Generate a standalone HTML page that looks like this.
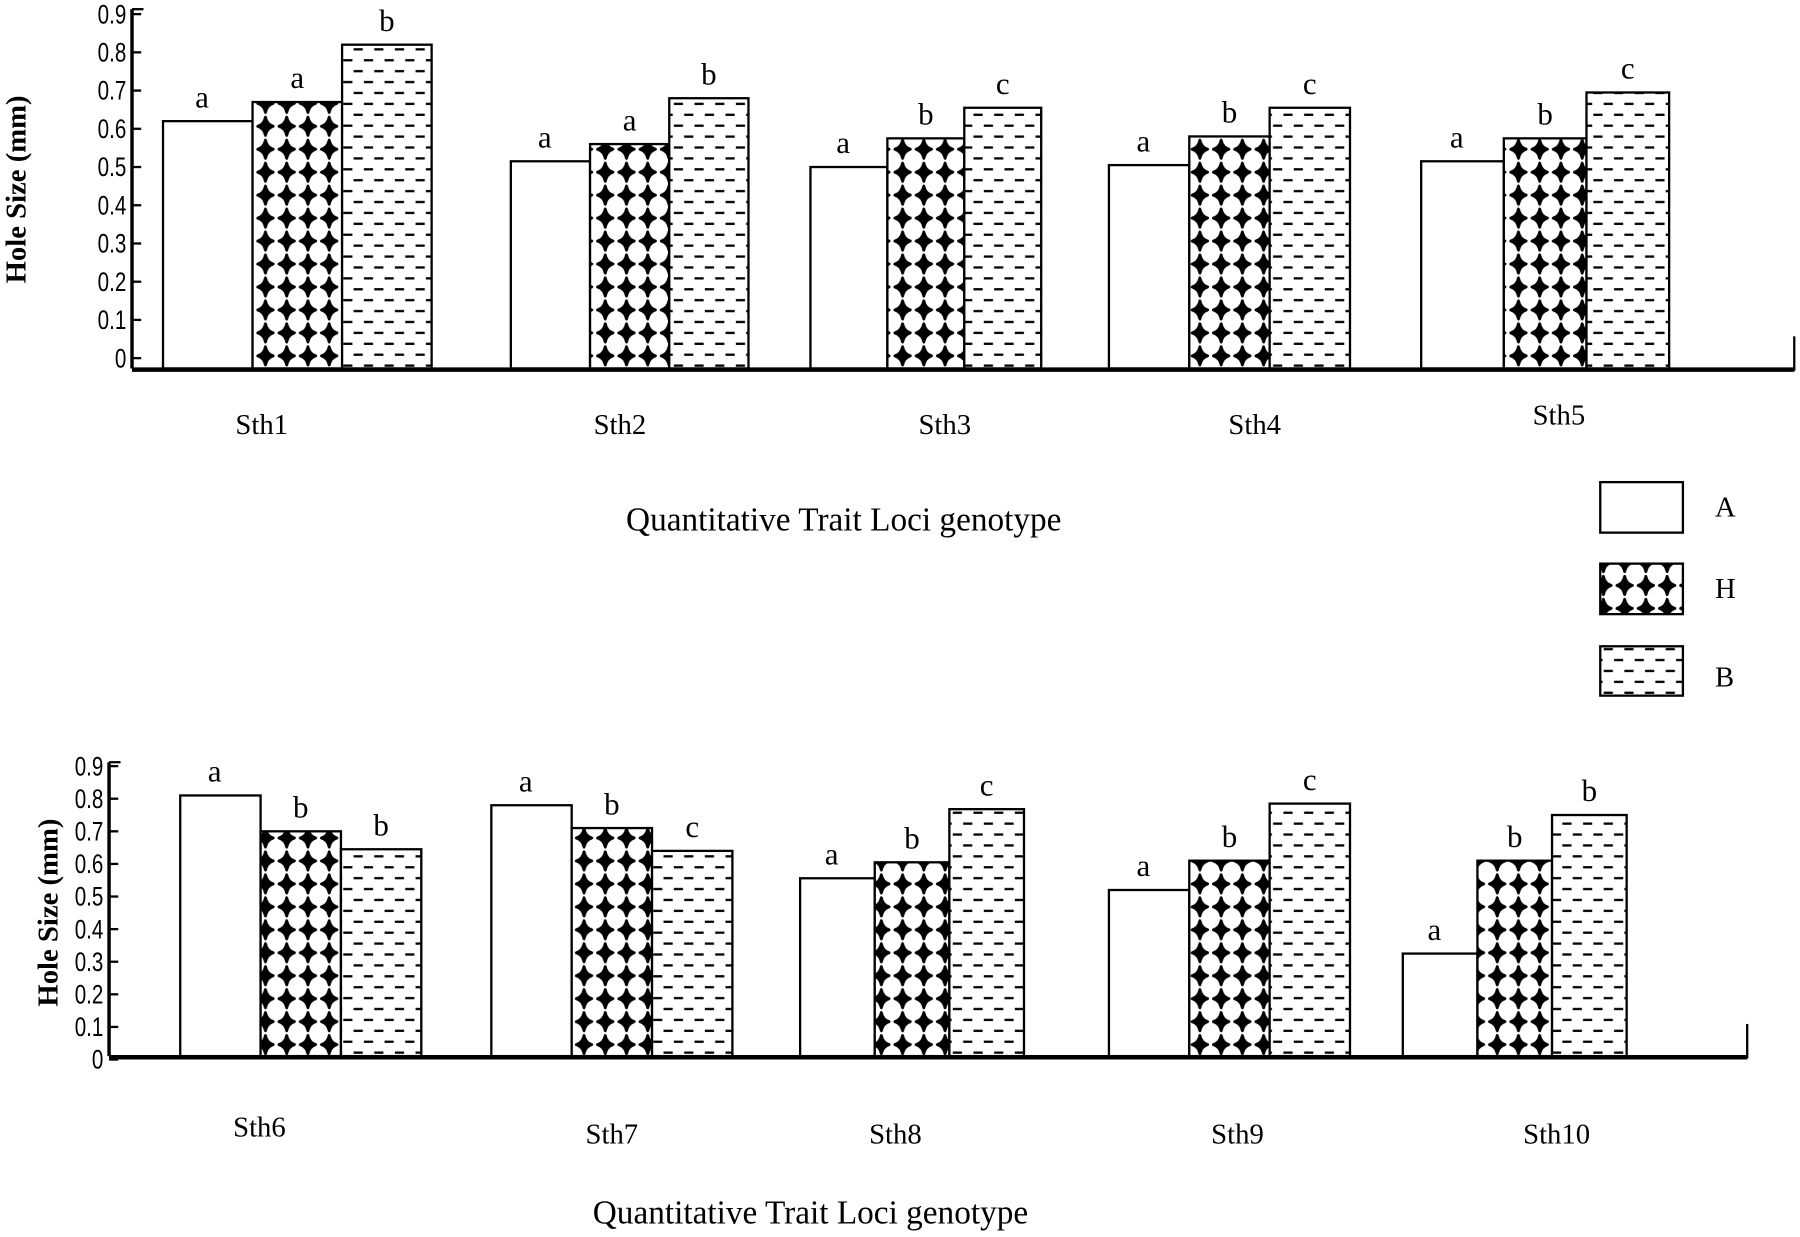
<!DOCTYPE html>
<html><head><meta charset="utf-8"><style>
html,body{margin:0;padding:0;background:#fff;}
svg{display:block;}
text{font-family:"Liberation Serif",serif;fill:#000;}
.tick{font-family:"Liberation Sans",sans-serif;font-size:23px;}
</style></head><body>
<svg id="chart" width="1800" height="1237" viewBox="0 0 1568 1077.6" preserveAspectRatio="none" xmlns="http://www.w3.org/2000/svg">
<defs>
<pattern id="pH" patternUnits="userSpaceOnUse" width="18.5" height="20" x="0" y="0">
<rect width="18.5" height="20" fill="#fff"/>
<path d="M9.25,2 Q10.5,8.3 16,10 Q10.5,11.7 9.25,18 Q8,11.7 2.5,10 Q8,8.3 9.25,2 Z" fill="#000" stroke="#000" stroke-width="2.4" stroke-linejoin="round"/>
</pattern>
<pattern id="pB" patternUnits="userSpaceOnUse" width="18" height="19" x="0" y="0">
<rect width="18" height="19" fill="#fff"/>
<rect x="2" y="4" width="8" height="2" fill="#000"/>
<rect x="11" y="13.5" width="8" height="2" fill="#000"/>
<rect x="-7" y="13.5" width="8" height="2" fill="#000"/>
</pattern>
</defs>
<g id="top"></g>
<g id="bot"></g>
<g id="legend">
<rect x="1394" y="420" width="72" height="44" fill="#fff" stroke="#000" stroke-width="2"/>
<text x="1494" y="450" font-size="25">A</text>
<rect x="1394" y="491" width="72" height="44" fill="url(#pH)" stroke="#000" stroke-width="2"/>
<text x="1494" y="521" font-size="25">H</text>
<rect x="1394" y="563" width="72" height="43" fill="url(#pB)" stroke="#000" stroke-width="2"/>
<text x="1494" y="598" font-size="25">B</text>
</g>
</svg>
<script>
const topCategories = ["Sth1","Sth2","Sth3","Sth4","Sth5"];
const topA = [0.62,0.515,0.50,0.505,0.515];
const topH = [0.67,0.56,0.575,0.58,0.575];
const topB = [0.82,0.68,0.655,0.655,0.695];
const topLetA = ["a","a","a","a","a"];
const topLetH = ["a","a","b","b","b"];
const topLetB = ["b","b","c","c","c"];
const botCategories = ["Sth6","Sth7","Sth8","Sth9","Sth10"];
const botA = [0.81,0.78,0.556,0.52,0.325];
const botH = [0.70,0.71,0.605,0.61,0.61];
const botB = [0.645,0.64,0.768,0.785,0.75];
const botLetA = ["a","a","a","a","a"];
const botLetH = ["b","b","b","b","b"];
const botLetB = ["b","c","c","c","b"];
const yTicks = [0,0.1,0.2,0.3,0.4,0.5,0.6,0.7,0.8,0.9];
const yTickLabels = ["0","0.1","0.2","0.3","0.4","0.5","0.6","0.7","0.8","0.9"];

const NS="http://www.w3.org/2000/svg";
function mk(parent,tag,attrs,txt){const e=document.createElementNS(NS,tag);for(const k in attrs)e.setAttribute(k,attrs[k]);if(txt!==undefined)e.textContent=txt;parent.appendChild(e);return e;}

function drawChart(g,cfg,cats,A,H,B,lA,lH,lB){
  const y=v=>cfg.y0-v*cfg.ppu;
  let ax=mk(g,'line',{x1:cfg.ax,y1:cfg.axTop,x2:cfg.ax,y2:cfg.base,stroke:'#000','stroke-width':3});
  
  
  let tt=mk(g,'line',{x1:cfg.ax,y1:cfg.axTop,x2:cfg.ax+10,y2:cfg.axTop,stroke:'#000','stroke-width':2});
  
  
  yTicks.forEach((v,i)=>{
    let t=mk(g,'line',{x1:cfg.ax,y1:y(v),x2:cfg.ax+8,y2:y(v),stroke:'#000','stroke-width':2});
    
    
    let l=mk(g,'text',{x:cfg.ax-5,y:y(v)+8,'text-anchor':'end',class:'tick',transform:`translate(${cfg.ax-5},0) scale(0.78,1) translate(${-(cfg.ax-5)},0)`},yTickLabels[i]);
    
    
  });
  let yt=mk(g,'text',{x:0,y:0,'font-size':25,'font-weight':'bold','text-anchor':'middle',transform:`translate(${cfg.ytx},${cfg.yty}) rotate(-90)`},'Hole Size (mm)');
  
  
  const series=[[A,'#fff',lA,'a'],[H,'url(#pH)',lH,'h'],[B,'url(#pB)',lB,'b']];
  cats.forEach((c,i)=>{
    const gx=cfg.gx[i], bw=cfg.bw[i];
    series.forEach((s,j)=>{
      const v=s[0][i];const x=gx+j*bw;
      let r=mk(g,'rect',{x:x,y:y(v),width:bw,height:cfg.base-y(v),fill:s[1],stroke:'#000','stroke-width':2});
      
      
      let t=mk(g,'text',{x:x+bw/2-(j==0?5:0),y:y(v)-12,'text-anchor':'middle','font-size':27},s[2][i]);
      
      
    });
    let cl=mk(g,'text',{x:cfg.catX[i],y:cfg.catY[i],'text-anchor':'middle','font-size':25},c);
    
    
  });
  let bl=mk(g,'line',{x1:cfg.ax,y1:cfg.base+1,x2:cfg.xEnd,y2:cfg.base+1,stroke:'#000','stroke-width':4});
  
  
  let re=mk(g,'line',{x1:cfg.xEnd,y1:cfg.base-28,x2:cfg.xEnd,y2:cfg.base+2,stroke:'#000','stroke-width':2});
  
  
  let xt=mk(g,'text',{x:cfg.xtx,y:cfg.xty,'text-anchor':'middle','font-size':29},'Quantitative Trait Loci genotype');
  
  
}
drawChart(document.getElementById('top'),{y0:312,ppu:333,ax:115,axTop:8,base:321,xEnd:1563,
  gx:[142,445,706,966,1238],bw:[78,69,67,70,72],catX:[228,540,823,1093,1358],catY:[378,378,378,378,370],
  ytx:22,yty:165,xtx:735,xty:462},
  topCategories,topA,topH,topB,topLetA,topLetH,topLetB);
drawChart(document.getElementById('bot'),{y0:923,ppu:284,ax:95,axTop:664,base:920,xEnd:1522,
  gx:[157,428,697,966,1222],bw:[70,70,65,70,65],catX:[226,533,780,1078,1356],catY:[990,996,996,996,996],
  ytx:50,yty:795,xtx:706,xty:1066},
  botCategories,botA,botH,botB,botLetA,botLetH,botLetB);
</script>
</body></html>
